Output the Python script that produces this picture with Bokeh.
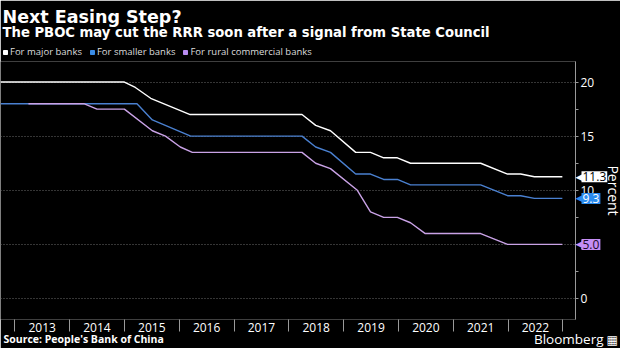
import math
from bokeh.plotting import figure
from bokeh.models import (Range1d, FixedTicker, LinearAxis, Label, Legend, LegendItem, GridBox)
from bokeh.embed import file_html
from bokeh.resources import INLINE

# ---- data (decimal years, percent) ----
major_x = [2012.74, 2015.0, 2015.2, 2015.48, 2016.2, 2018.24, 2018.49, 2018.76, 2019.22,
           2019.49, 2019.73, 2019.98, 2020.22, 2021.5, 2021.99, 2022.23, 2022.48, 2022.99]
major_y = [20, 20, 19.5, 18.5, 17, 17, 16, 15.5, 13.5,
           13.5, 13, 13, 12.5, 12.5, 11.5, 11.5, 11.25, 11.25]

smaller_x = [2012.74, 2015.23, 2015.51, 2016.21, 2018.24, 2018.49, 2018.76, 2019.22,
             2019.49, 2019.73, 2019.98, 2020.22, 2021.5, 2021.99, 2022.23, 2022.48, 2022.99]
smaller_y = [18, 18, 16.5, 15, 15, 14, 13.5, 11.5,
             11.5, 11, 11, 10.5, 10.5, 9.5, 9.5, 9.25, 9.25]

rural_x = [2013.25, 2014.26, 2014.5, 2015.0, 2015.51, 2015.75, 2016.02, 2016.24, 2018.24,
           2018.49, 2018.76, 2019.25, 2019.49, 2019.73, 2019.98, 2020.22, 2020.49, 2021.5,
           2021.99, 2022.99]
rural_y = [18, 18, 17.5, 17.5, 15.5, 15, 14, 13.5, 13.5,
           12.5, 12, 10, 8, 7.5, 7.5, 7, 6, 6,
           5, 5]

years = [2013, 2014, 2015, 2016, 2017, 2018, 2019, 2020, 2021, 2022]
y_ticks = [0, 5, 10, 15, 20]
y_minor = [2.5, 7.5, 12.5, 17.5]

series_names = ["For major banks", "For smaller banks", "For rural commercial banks"]
line_colors = ["#ffffff", "#4a80d0", "#c9a2e6"]
key_colors = ["#ffffff", "#3a8ce6", "#b98cf0"]
tag_colors = ["#ffffff", "#2a8bef", "#c58ef5"]
tag_text_colors = ["#000000", "#ffffff", "#1a0a2a"]

title_text = "Next Easing Step?"
subtitle_text = "The PBOC may cut the RRR soon after a signal from State Council"
source_text = "Source: People's Bank of China"
brand_text = "Bloomberg"
y_label_text = "Percent"

FONT = "Open Sans"
HEAD_FONT = "DejaVu Sans"
W, H = 620, 348
TOP, BOTTOM, RIGHT = 61, 29, 45
Y0, Y1 = -1.94, 21.9


def one_decimal(v):
    return "%.1f" % (int(v * 10 + 0.5) / 10)


# ---------------- main chart ----------------
p = figure(width=W, height=H, output_backend="svg", toolbar_location=None,
           x_range=Range1d(2012.74, 2023.23), y_range=Range1d(Y0, Y1),
           y_axis_location=None, x_axis_location=None,
           min_border_left=0, min_border_right=RIGHT, min_border_top=TOP,
           min_border_bottom=BOTTOM, frame_align=False)
p.background_fill_color = "#000000"
p.border_fill_color = "#000000"
p.outline_line_color = None
p.xgrid.visible = False

xaxis = LinearAxis(ticker=FixedTicker(ticks=[y + 0.5 for y in years],
                                      minor_ticks=years + [years[-1] + 1]))
xaxis.major_label_overrides = {y + 0.5: str(y) for y in years}
xaxis.axis_line_color = None
xaxis.major_tick_line_color = None
xaxis.major_tick_out = 0
xaxis.major_tick_in = 0
xaxis.minor_tick_in = 0
xaxis.minor_tick_out = 12
xaxis.minor_tick_line_color = "#9a9a9a"
xaxis.major_label_standoff = -9
xaxis.major_label_text_color = "#ffffff"
xaxis.major_label_text_font = FONT
xaxis.major_label_text_font_size = "12px"
p.add_layout(xaxis, "below")

yaxis = LinearAxis(ticker=FixedTicker(ticks=y_ticks, minor_ticks=y_minor))
yaxis.axis_line_color = "#9a9a9a"
yaxis.major_tick_line_color = "#9a9a9a"
yaxis.minor_tick_line_color = "#9a9a9a"
yaxis.major_tick_out = 3
yaxis.major_tick_in = 0
yaxis.minor_tick_out = 3
yaxis.minor_tick_in = 0
yaxis.major_label_standoff = 2
yaxis.major_label_text_color = "#ffffff"
yaxis.major_label_text_font = FONT
yaxis.major_label_text_font_size = "12px"
p.add_layout(yaxis, "right")

p.ygrid.ticker = FixedTicker(ticks=y_ticks)
p.ygrid.grid_line_color = "#6a6a6a"
p.ygrid.grid_line_dash = "1 2"
p.ygrid.grid_line_width = 1

xs = [major_x, smaller_x, rural_x]
ys = [major_y, smaller_y, rural_y]
for sx_, sy_, c in zip(xs, ys, line_colors):
    p.line(sx_, sy_, line_color=c, line_width=1.4)

# ---------------- overlay for texts outside the plot frame ----------------
ppu = (H - TOP - BOTTOM) / (Y1 - Y0)
ov = figure(width=W, height=H, output_backend="svg", toolbar_location=None,
            x_range=Range1d(0, W),
            y_range=Range1d(Y0 - BOTTOM / ppu, Y1 + TOP / ppu),
            x_axis_location=None, y_axis_location=None,
            min_border=0, min_border_left=0, min_border_right=0,
            min_border_top=0, min_border_bottom=0, frame_align=False)
ov.background_fill_alpha = 0
ov.border_fill_alpha = 0
ov.outline_line_color = None
ov.grid.visible = False

# legend keys (square markers; NaN point so nothing is drawn in the plot)
nan = float("nan")
items = []
for name, c in zip(series_names, key_colors):
    r = ov.scatter(x=[nan], y=[nan], marker="square", size=6, fill_color=c, line_color=c)
    items.append(LegendItem(label=name, renderers=[r]))
legend = Legend(items=items, orientation="horizontal", location=(0, H - 58),
                background_fill_alpha=0, border_line_color=None,
                label_text_color="#dddddd", label_text_font=FONT,
                label_text_font_size="9.5px", glyph_width=10, glyph_height=12,
                label_height=12, label_standoff=0, spacing=5, padding=0, margin=0)
ov.add_layout(legend, "center")

# y-axis title, rotated, to the right of the tick labels and tags
ov.add_layout(Label(x=W - 7, y=(Y0 + Y1) / 2, text=y_label_text, angle=-math.pi / 2,
                    text_color="#ffffff", text_font=FONT, text_font_size="14px",
                    text_align="center", text_baseline="middle"))

# last-value tags next to the right axis
tag_x = W - RIGHT + 7
for sy_, tc, ttc in zip(ys, tag_colors, tag_text_colors):
    last = sy_[-1]
    ov.add_layout(Label(x=tag_x, y=last, text="\u25c0", text_color=tc,
                        text_font="DejaVu Sans", text_font_size="9px",
                        text_baseline="middle", text_align="right"))
    ov.add_layout(Label(x=tag_x - 1, y=last, text=one_decimal(last),
                        text_color=ttc, text_font=FONT, text_font_size="12px",
                        text_baseline="middle", text_align="left",
                        background_fill_color=tc, padding=1))

# titles and footer (screen units from bottom-left of canvas)
ov.add_layout(Label(x=2, y=H - 16, x_units="screen", y_units="screen",
                    text=title_text, text_color="#ffffff", text_font=HEAD_FONT,
                    text_font_size="17.5px", text_font_style="bold",
                    text_baseline="alphabetic"))
ov.add_layout(Label(x=2, y=H - 32, x_units="screen", y_units="screen",
                    text=subtitle_text, text_color="#ffffff", text_font=HEAD_FONT,
                    text_font_size="13.2px", text_font_style="bold",
                    text_baseline="alphabetic"))
ov.add_layout(Label(x=3, y=H - 338, x_units="screen", y_units="screen",
                    text=source_text, text_color="#ffffff", text_font=FONT,
                    text_font_size="10.5px", text_font_style="bold",
                    text_baseline="alphabetic"))
ov.add_layout(Label(x=603, y=H - 338, x_units="screen", y_units="screen",
                    text=brand_text, text_color="#ffffff", text_font=FONT,
                    text_font_size="13.5px", text_baseline="alphabetic",
                    text_align="right"))
ov.add_layout(Label(x=606, y=H - 339, x_units="screen", y_units="screen",
                    text="\u25a6", text_color="#ffffff", text_font="DejaVu Sans",
                    text_font_size="12px", text_baseline="alphabetic",
                    text_align="left"))

layout = GridBox(children=[(p, 0, 0), (ov, 0, 0)])
open("out.html", "w").write(file_html(layout, INLINE))
